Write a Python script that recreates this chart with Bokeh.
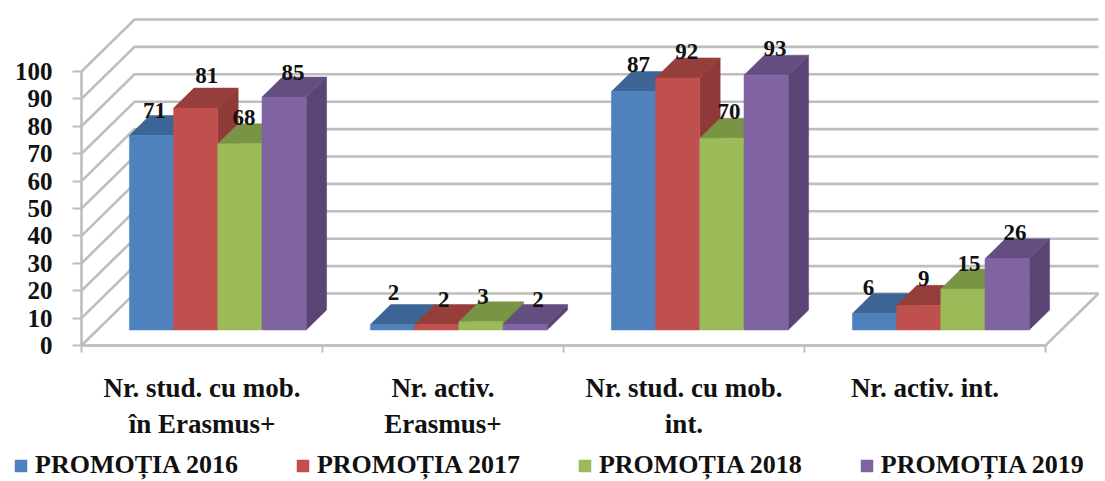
from bokeh.plotting import figure
from bokeh.models import Range1d, FixedTicker, Legend, LegendItem, ColumnDataSource
from bokeh.core.properties import value
from bokeh.embed import file_html
from bokeh.resources import INLINE

categories = ["Nr. stud. cu mob.\nîn Erasmus+", "Nr. activ.\nErasmus+", "Nr. stud. cu mob.\nint.", "Nr. activ. int."]
series_names = ["PROMOȚIA 2016", "PROMOȚIA 2017", "PROMOȚIA 2018", "PROMOȚIA 2019"]
promotia_2016 = [71, 2, 87, 6]
promotia_2017 = [81, 2, 92, 9]
promotia_2018 = [68, 3, 70, 15]
promotia_2019 = [85, 2, 93, 26]
y_ticks = [0, 10, 20, 30, 40, 50, 60, 70, 80, 90, 100]

front_colors = ["#4F81BD", "#C0504D", "#9BBB59", "#8064A2"]
top_colors = ["#3C6595", "#963E3C", "#7A9446", "#644D80"]
side_colors = ["#375B87", "#8E3A38", "#6F863F", "#5A4474"]
grid_color = "#BEBEBE"
FONT = "Liberation Serif"

# layout (pixels per data unit, depth of the oblique projection)
PX_X, PX_Y = 241.0, 2.74
DEPTH_X, DEPTH_Y = 53 / PX_X, 52 / PX_Y
FRONT, BACK = 15.5 / 52, 35.5 / 52
BAR_W = 44.2 / PX_X
W, H = 1105, 481
ORIGIN_X, ORIGIN_Y = 81, 345

label_dx = [[3, 1, 5, -6], [11, 7, 9, 5], [4, 2, 7, 6], [9, 13, 9, 8]]
label_dy = [[-24.5, -32, -27, -26], [-33, -25, -26, -27], [-26, -25, -27, -25], [-25, -25, -27, -26]]

p = figure(width=W, height=H, output_backend="svg", toolbar_location=None,
           x_range=Range1d(-ORIGIN_X / PX_X, (W - ORIGIN_X) / PX_X),
           y_range=Range1d(-(H - ORIGIN_Y) / PX_Y, ORIGIN_Y / PX_Y),
           min_border_left=0, min_border_right=0, min_border_top=0, min_border_bottom=0,
           outline_line_color=None, tools="")
p.grid.visible = False

n = len(categories)
def proj(x, y, d):
    return x + d * DEPTH_X, y + d * DEPTH_Y

# back wall, side wall, floor
wall_xs, wall_ys = [], []
for t in y_ticks:
    x0, y0 = proj(0, t, 0)
    x1, y1 = proj(0, t, 1)
    x2, y2 = proj(n, t, 1)
    wall_xs.append([x0, x1, x2])
    wall_ys.append([y0, y1, y2])
x3, y3 = proj(n, 0, 0)
x4, y4 = proj(n, 0, 1)
wall_xs.append([0, x3, x4])
wall_ys.append([0, y3, y4])
p.multi_line(wall_xs, wall_ys, line_color=grid_color, line_width=2.6, line_join="miter")

# bars
series = [promotia_2016, promotia_2017, promotia_2018, promotia_2019]
legend_items = []
for s, vals in enumerate(series):
    f_x, f_y, t_x, t_y, r_x, r_y = [], [], [], [], [], []
    for g, v in enumerate(vals):
        xl = g + 0.5 - 2 * BAR_W + s * BAR_W
        xr = xl + BAR_W
        a = proj(xl, 0, FRONT); b = proj(xr, 0, FRONT)
        c = proj(xr, v, FRONT); d = proj(xl, v, FRONT)
        e = proj(xl, v, BACK); f = proj(xr, v, BACK); h = proj(xr, 0, BACK)
        f_x.append([a[0], b[0], c[0], d[0]]); f_y.append([a[1], b[1], c[1], d[1]])
        t_x.append([d[0], c[0], f[0], e[0]]); t_y.append([d[1], c[1], f[1], e[1]])
        r_x.append([b[0], h[0], f[0], c[0]]); r_y.append([b[1], h[1], f[1], c[1]])
    p.patches(r_x, r_y, fill_color=side_colors[s], line_color=side_colors[s], line_width=0.5)
    p.patches(t_x, t_y, fill_color=top_colors[s], line_color=top_colors[s], line_width=0.5)
    fr = p.patches(f_x, f_y, fill_color=front_colors[s], line_color=front_colors[s], line_width=0.5)
    legend_items.append(LegendItem(label=series_names[s], renderers=[fr]))

# data labels
for s, vals in enumerate(series):
    src = ColumnDataSource(dict(
        x=[proj(g + 0.5 - 2 * BAR_W + (s + 0.5) * BAR_W, 0, FRONT)[0] for g in range(n)],
        y=[proj(0, v, FRONT)[1] for v in vals],
        t=[str(v) for v in vals],
        dx=label_dx[s], dy=label_dy[s]))
    p.text("x", "y", text="t", x_offset="dx", y_offset="dy", source=src, text_align="center",
           text_baseline="middle", text_color="#111111", text_font=value(FONT),
           text_font_style="bold", text_font_size="23px")

# axes, pinned at the data origin inside the frame
yax = p.yaxis[0]
yax.fixed_location = 0
yax.bounds = (0, 100)
yax.ticker = FixedTicker(ticks=y_ticks)
yax.axis_line_color = grid_color
yax.axis_line_width = 2.6
yax.major_tick_line_color = grid_color
yax.major_tick_line_width = 2
yax.major_tick_in = 0
yax.major_tick_out = 9
yax.minor_tick_line_color = None
yax.major_label_standoff = 20
yax.major_label_text_font = FONT
yax.major_label_text_font_style = "bold"
yax.major_label_text_font_size = "25px"
yax.major_label_text_color = "#111111"

xax = p.xaxis[0]
xax.fixed_location = 0
xax.bounds = (0, n)
xax.ticker = FixedTicker(ticks=[i + 0.5 for i in range(n)], minor_ticks=list(range(n + 1)))
xax.major_label_overrides = {i + 0.5: c for i, c in enumerate(categories)}
xax.axis_line_color = grid_color
xax.axis_line_width = 2.6
xax.major_tick_line_color = None
xax.major_tick_in = 0
xax.major_tick_out = 0
xax.minor_tick_line_color = grid_color
xax.minor_tick_line_width = 2
xax.minor_tick_in = 0
xax.minor_tick_out = 7
xax.major_label_standoff = 20
xax.major_label_orientation = "horizontal"
xax.major_label_text_font = FONT
xax.major_label_text_font_style = "bold"
xax.major_label_text_font_size = "27px"
xax.major_label_text_color = "#111111"

legend = Legend(items=legend_items, orientation="horizontal", location=(13, 1),
                padding=0, margin=0, spacing=57, glyph_width=15, glyph_height=15, label_standoff=7,
                border_line_color=None, background_fill_alpha=0,
                label_text_font=FONT, label_text_font_style="bold", label_text_font_size="26px",
                label_text_color="#111111")
p.add_layout(legend)

open("out.html", "w").write(file_html(p, INLINE))
